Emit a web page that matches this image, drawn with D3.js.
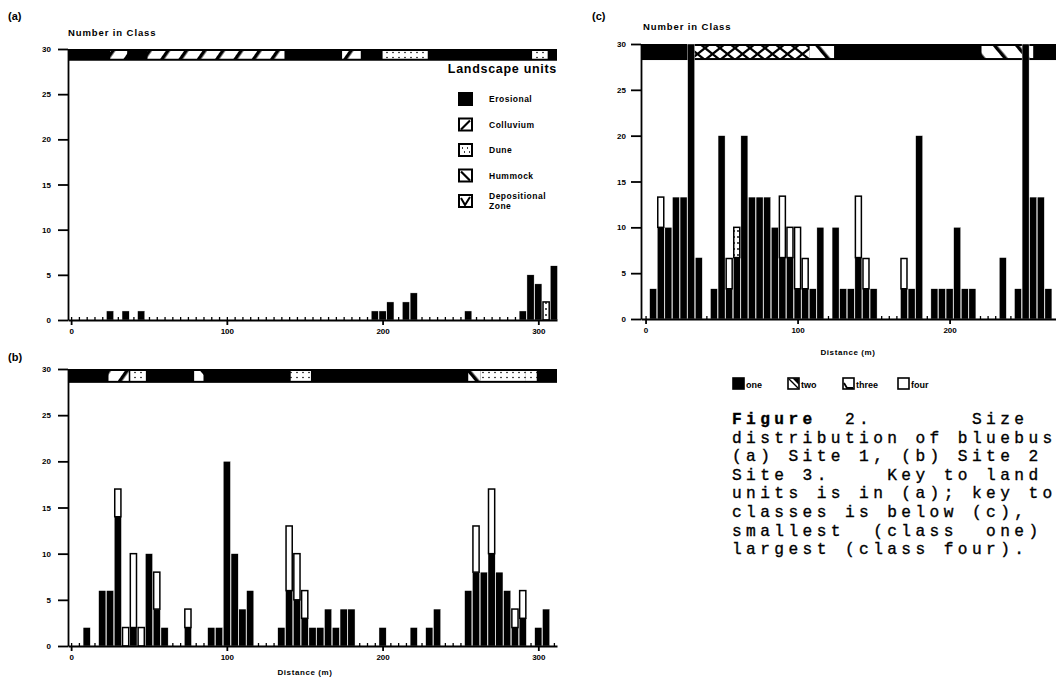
<!DOCTYPE html>
<html>
<head>
<meta charset="utf-8">
<script src="https://cdn.jsdelivr.net/npm/d3@7"></script>
<style>
  body { margin: 0; background: #fff; }
  text { font-family: "Liberation Sans", Arial, sans-serif; font-weight: bold; fill: #000; }
  .cap { font-family: "Liberation Mono", "Courier New", monospace; font-weight: normal; white-space: pre;
         stroke: #000; stroke-width: 0.35; }
</style>
</head>
<body>
<svg id="fig" width="1056" height="681"></svg>
<script>
// ---- data ----
var yTicks = [0, 5, 10, 15, 20, 25, 30];
var xTicks = [0, 100, 200, 300];
var classKeys = ["one", "two", "three", "four"];
var unitNames = ["Erosional", "Colluvium", "Dune", "Hummock", "Depositional Zone"];

// site 1 (a)
var siteABins  = [25, 35, 45, 195, 200, 205, 215, 220, 255, 290, 295, 300, 305, 310];
var siteAOne   = [1, 1, 1, 1, 1, 2, 2, 3, 1, 1, 5, 4, 0, 6];
var siteATwo   = [0, 0, 0, 0, 0, 0, 0, 0, 0, 0, 0, 0, 0, 0];
var siteAThree = [0, 0, 0, 0, 0, 0, 0, 0, 0, 0, 0, 0, 2, 0];
var siteABand  = [[25, 36, "colluvium"], [49, 137, "colluvium"], [174, 186, "colluvium"],
                  [200, 229, "dune"], [296, 306, "dune"]];

// site 2 (b)
var siteBBins = [10, 20, 25, 30, 35, 40, 45, 50, 55, 60, 75, 90, 95, 100, 105, 110, 115,
                 135, 140, 145, 150, 155, 160, 165, 170, 175, 180, 200, 220, 230, 235,
                 255, 260, 265, 270, 275, 280, 285, 290, 300, 305];
var siteBOne  = [2, 6, 6, 14, 0, 2, 0, 10, 4, 2, 2, 2, 2, 20, 10, 4, 6,
                 2, 6, 5, 3, 2, 2, 4, 2, 4, 4, 2, 2, 2, 4,
                 6, 8, 8, 10, 8, 6, 2, 3, 2, 4];
var siteBTwo  = [0, 0, 0, 3, 2, 8, 2, 0, 4, 0, 2, 0, 0, 0, 0, 0, 0,
                 0, 7, 5, 3, 0, 0, 0, 0, 0, 0, 0, 0, 0, 0,
                 0, 5, 0, 7, 0, 0, 2, 3, 0, 0];
var siteBBand = [[24, 37, "colluvium"], [38, 48, "dune"], [79, 85, "hummock"], [141, 154, "dune"],
                 [255, 263, "hummock"], [263, 292, "dune"], [292, 299, "dune"]];

// site 3 (c)
var siteCBins  = [5, 10, 15, 20, 25, 30, 35, 45, 50, 55, 60, 65, 70, 75, 80, 85, 90, 95, 100,
                  105, 110, 115, 125, 130, 135, 140, 145, 150, 170, 175, 180, 190, 195, 200,
                  205, 210, 215, 235, 245, 250, 255, 260, 265];
var siteCOne   = [3.3, 10, 10, 13.3, 13.3, 30, 6.7, 3.3, 20, 3.3, 6.7, 20, 13.3, 13.3, 13.3, 10, 6.7, 6.7, 3.3,
                  3.3, 3.3, 10, 10, 3.3, 3.3, 6.7, 3.3, 3.3, 3.3, 3.3, 20, 3.3, 3.3, 3.3,
                  10, 3.3, 3.3, 6.7, 3.3, 30, 13.3, 13.3, 3.3];
var siteCTwo   = [0, 3.3, 0, 0, 0, 0, 0, 0, 0, 3.3, 0, 0, 0, 0, 0, 0, 6.7, 3.3, 6.7,
                  3.3, 0, 0, 0, 0, 0, 6.7, 3.3, 0, 3.3, 0, 0, 0, 0, 0,
                  0, 0, 0, 0, 0, 0, 0, 0, 0];
var siteCThree = [0, 0, 0, 0, 0, 0, 0, 0, 0, 0, 3.3, 0, 0, 0, 0, 0, 0, 0, 0,
                  0, 0, 0, 0, 0, 0, 0, 0, 0, 0, 0, 0, 0, 0, 0,
                  0, 0, 0, 0, 0, 0, 0, 0, 0];
var siteCBand  = [[28, 108, "depositional"], [108, 124, "hummock"], [221, 255, "hummock"]];

var captionLines = [
  "Figure  2.       Size",
  "distribution of bluebus",
  "(a) Site 1, (b) Site 2",
  "Site 3.    Key to land",
  "units is in (a); key to",
  "classes is below (c),",
  "smallest  (class  one)",
  "largest (class four)."
];

var svg = d3.select("#fig");
svg.append("rect").attr("width", 1056).attr("height", 681).attr("fill", "#fff");

// ---- patterns for the landscape units ----
var defs = svg.append("defs");
function stripe(id, angle, period, w) {
  var p = defs.append("pattern").attr("id", id)
    .attr("patternUnits", "userSpaceOnUse")
    .attr("width", period).attr("height", period)
    .attr("patternTransform", "rotate(" + angle + ")");
  p.append("rect").attr("width", period).attr("height", period).attr("fill", "#fff");
  p.append("rect").attr("width", w).attr("height", period).attr("fill", "#000");
}
stripe("p-colluvium", 35, 15, 3.5);
stripe("p-hummock", -40, 17, 3.5);
var dune = defs.append("pattern").attr("id", "p-dune")
  .attr("patternUnits", "userSpaceOnUse").attr("width", 6).attr("height", 5);
dune.append("rect").attr("width", 6).attr("height", 5).attr("fill", "#fff");
dune.append("circle").attr("cx", 3).attr("cy", 2.5).attr("r", 0.8).attr("fill", "#000");
var dep = defs.append("pattern").attr("id", "p-depositional")
  .attr("patternUnits", "userSpaceOnUse").attr("width", 15).attr("height", 12);
dep.append("rect").attr("width", 15).attr("height", 12).attr("fill", "#fff");
dep.append("path").attr("d", "M0,0L15,12M15,0L0,12").attr("stroke", "#000").attr("stroke-width", 2.2);
var dots = defs.append("pattern").attr("id", "p-three")
  .attr("patternUnits", "userSpaceOnUse").attr("width", 4).attr("height", 6);
dots.append("rect").attr("width", 4).attr("height", 6).attr("fill", "#fff");
dots.append("circle").attr("cx", 2).attr("cy", 3).attr("r", 0.9).attr("fill", "#000");

var classFill = { one: "#000", two: "#fff", three: "url(#p-three)", four: "#fff" };

function drawPanel(p) {
  var x = d3.scaleLinear().domain(p.xDomain).range(p.xRange);
  var y = d3.scaleLinear().domain([0, 30]).range(p.yRange);
  var g = svg.append("g");

  // landscape unit band along the top
  var bandTop = y(30), bandBot = y(p.bandLow);
  g.append("rect")
    .attr("x", x(p.xDomain[0])).attr("y", bandTop)
    .attr("width", x(p.xDomain[1]) - x(p.xDomain[0]))
    .attr("height", bandBot - bandTop).attr("fill", "#000");
  g.selectAll("rect.seg").data(p.band).join("rect").attr("class", "seg")
    .attr("x", d => x(d[0])).attr("width", d => x(d[1]) - x(d[0]))
    .attr("y", bandTop + 2).attr("height", bandBot - bandTop - 4)
    .attr("fill", d => "url(#p-" + d[2] + ")");

  // minor ticks every 5 m
  g.append("g").attr("transform", "translate(0," + p.yRange[0] + ")")
    .call(d3.axisBottom(x).tickValues(d3.range(0, p.xDomain[1], 5)).tickSize(-3).tickFormat("").tickSizeOuter(0))
    .call(a => a.select(".domain").remove())
    .selectAll("line").attr("stroke-width", 1.3);

  // stacked bars
  var rows = p.bins.map((b, i) => ({
    bin: b, one: p.one[i], two: p.two ? p.two[i] : 0,
    three: p.three ? p.three[i] : 0, four: 0
  }));
  var layers = d3.stack().keys(classKeys)(rows);
  var bw = x(5) - x(0);
  g.selectAll("g.layer").data(layers).join("g").attr("class", "layer")
    .each(function (layer) {
      var black = layer.key === "one";
      d3.select(this).selectAll("rect")
        .data(layer.filter(d => d[1] - d[0] > 0)).join("rect")
        .attr("x", d => x(d.data.bin) - bw / 2 + (black ? 0.3 : 0.8))
        .attr("width", bw - (black ? 0.6 : 1.6))
        .attr("y", d => y(d[1]))
        .attr("height", d => y(d[0]) - y(d[1]))
        .attr("fill", classFill[layer.key])
        .attr("stroke", black ? "#fff" : "#000")
        .attr("stroke-width", black ? 0.4 : 1.5);
    });

  // axes
  var xa = g.append("g").attr("transform", "translate(0," + p.yRange[0] + ")")
    .call(d3.axisBottom(x).tickValues(xTicks.filter(v => v <= p.xDomain[1]))
      .tickSize(5).tickPadding(3).tickSizeOuter(0));
  var ya = g.append("g").attr("transform", "translate(" + p.xRange[0] + ",0)")
    .call(d3.axisLeft(y).tickValues(yTicks).tickSize(10).tickPadding(p.pad).tickSizeOuter(0));
  [xa, ya].forEach(a => {
    a.attr("font-family", null).attr("font-size", 8);
    a.selectAll("path, line").attr("stroke-width", 1.8);
  });

  g.append("text").attr("x", p.labelX).attr("y", p.labelY).attr("font-size", 11).text(p.label);
  if (p.titleX) {
    g.append("text").attr("x", p.titleX).attr("y", p.titleY)
      .attr("font-size", 9.5).attr("letter-spacing", 0.9).text("Number in Class");
  }
  if (p.distX) {
    g.append("text").attr("x", p.distX).attr("y", p.distY).attr("text-anchor", "middle")
      .attr("font-size", 8).attr("letter-spacing", 0.6).text("Distance (m)");
  }
}

drawPanel({ bins: siteABins, one: siteAOne, two: siteATwo, three: siteAThree, band: siteABand,
  xDomain: [-2, 312], xRange: [68, 557], yRange: [320, 49], bandLow: 28.7, pad: 7,
  label: "(a)", labelX: 8, labelY: 20, titleX: 68, titleY: 36 });
drawPanel({ bins: siteBBins, one: siteBOne, two: siteBTwo, band: siteBBand,
  xDomain: [-2, 312], xRange: [68, 557], yRange: [646, 369], bandLow: 28.5, pad: 7,
  label: "(b)", labelX: 8, labelY: 361, distX: 305, distY: 675 });
drawPanel({ bins: siteCBins, one: siteCOne, two: siteCTwo, three: siteCThree, band: siteCBand,
  xDomain: [-3, 270], xRange: [641, 1056], yRange: [319, 44], bandLow: 28.25, pad: 5,
  label: "(c)", labelX: 592, labelY: 20, titleX: 643, titleY: 30, distX: 848, distY: 355 });

// ---- landscape units legend (a) ----
svg.append("text").attr("x", 557).attr("y", 73).attr("text-anchor", "end")
  .attr("font-size", 12.5).attr("letter-spacing", 0.7).text("Landscape units");
var legY = d3.scalePoint().domain(unitNames).range([99, 201]);
var lg = svg.append("g").selectAll("g").data(unitNames).join("g")
  .attr("transform", d => "translate(459," + legY(d) + ")");
lg.append("rect").attr("x", 0).attr("y", -6).attr("width", 13).attr("height", 12)
  .attr("fill", (d, i) => i === 0 ? "#000" : "#fff").attr("stroke", "#000").attr("stroke-width", 2);
lg.filter((d, i) => i === 1).append("path").attr("d", "M2,5L11,-4").attr("stroke", "#000").attr("stroke-width", 2.2);
lg.filter((d, i) => i === 2).append("path").attr("d", "M3,-2h1M8,-2h1M5,2h1M10,2h1").attr("stroke", "#000").attr("stroke-width", 1.6);
lg.filter((d, i) => i === 3).append("path").attr("d", "M2,-4L11,5").attr("stroke", "#000").attr("stroke-width", 2.2);
lg.filter((d, i) => i === 4).append("path").attr("d", "M2,-3L6,4L11,-4").attr("stroke", "#000").attr("stroke-width", 2).attr("fill", "none");
lg.append("text").attr("x", 30).attr("y", (d, i) => i === 4 ? -2 : 3).attr("font-size", 8.5)
  .attr("letter-spacing", 0.5)
  .text(d => d === "Depositional Zone" ? "Depositional" : d);
lg.filter((d, i) => i === 4).append("text").attr("x", 30).attr("y", 8).attr("font-size", 8.5)
  .attr("letter-spacing", 0.5).text("Zone");

// ---- size class legend below (c) ----
var clsX = d3.scalePoint().domain(classKeys).range([733, 898]);
var cg = svg.append("g").selectAll("g").data(classKeys).join("g")
  .attr("transform", d => "translate(" + clsX(d) + ",378)");
cg.append("rect").attr("width", 11).attr("height", 11)
  .attr("fill", d => d === "one" ? "#000" : "#fff").attr("stroke", "#000").attr("stroke-width", 1.6);
cg.filter(d => d === "two").append("path").attr("d", "M1,1L10,10M6,1L10,1L10,5Z").attr("stroke", "#000").attr("stroke-width", 1.4).attr("fill", "#000");
cg.filter(d => d === "three").append("path").attr("d", "M1,5L4,10L10,10").attr("stroke", "#000").attr("stroke-width", 1.8).attr("fill", "none");
cg.append("text").attr("x", 13).attr("y", 10).attr("font-size", 9).text(d => d);

// ---- caption (monospace, justified with spaces) ----
var cap = svg.append("g");
captionLines.forEach(function (line, i) {
  var t = cap.append("text").attr("class", "cap")
    .attr("x", 732).attr("y", 424 + i * 18.6)
    .attr("font-size", 16.2).attr("letter-spacing", 4.4);
  if (i === 0) {
    t.append("tspan").attr("font-weight", "bold").text("Figure");
    t.append("tspan").text(line.slice(6));
  } else {
    t.text(line);
  }
});
</script>
</body>
</html>
